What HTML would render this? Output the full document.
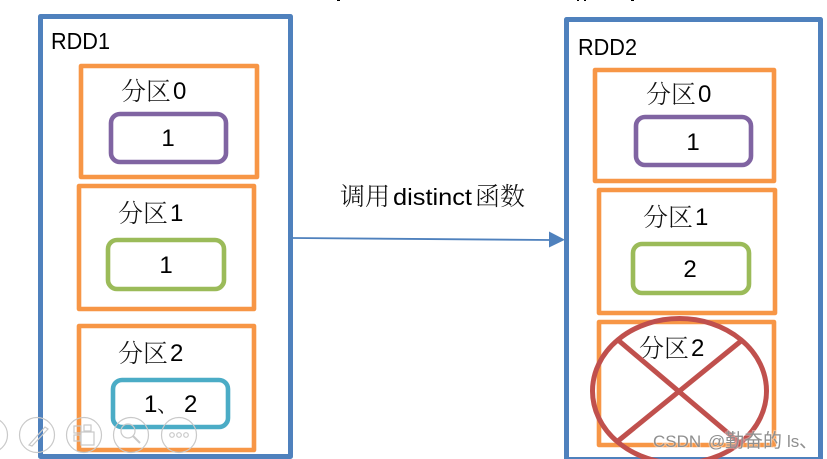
<!DOCTYPE html>
<html><head><meta charset="utf-8">
<style>
html,body{margin:0;padding:0;background:#fff;width:827px;height:459px;overflow:hidden}
svg{display:block}
text{font-family:"Liberation Sans","Noto Sans CJK SC",sans-serif;fill:#000}
.c{font-family:"Noto Serif CJK SC","Noto Sans CJK SC",serif;font-size:25px;font-weight:300;fill:#111}
.l{font-size:23px}
.v{font-size:24px}
.w{fill:#8f8f8f;font-size:17px}
.wj{fill:#8f8f8f;font-size:19px}
.h{fill:#fff;stroke:#fff;stroke-width:2;opacity:.6}
</style></head><body>
<svg width="827" height="459" viewBox="0 0 827 459" xmlns="http://www.w3.org/2000/svg">
<rect width="827" height="459" fill="#fff"/>
<g fill="#000"><rect x="337" y="0" width="3" height="1"/><rect x="577" y="0" width="2" height="1"/><rect x="584" y="0" width="2" height="1"/><rect x="631" y="0" width="3" height="1"/></g>
<g fill="none" stroke-linejoin="round">
<rect x="40.5" y="16.5" width="250" height="440" stroke="#4f81bd" stroke-width="5"/>
<rect x="566.5" y="19.5" width="254" height="440" stroke="#4f81bd" stroke-width="5"/>
<g stroke="#f79646" stroke-width="4.6">
<rect x="81" y="66" width="176" height="111"/>
<rect x="79" y="186" width="175" height="123"/>
<rect x="79" y="326" width="175" height="124"/>
<rect x="595" y="70" width="179" height="111"/>
<rect x="599" y="190" width="176" height="123"/>
<rect x="599" y="322" width="175" height="123"/>
</g>
<g stroke-width="4.6">
<rect x="111" y="114" width="115" height="48" rx="9" stroke="#8064a2"/>
<rect x="108" y="240" width="116" height="49" rx="9" stroke="#9bbb59"/>
<rect x="113" y="380" width="115" height="47" rx="9" stroke="#4bacc6"/>
<rect x="636" y="117" width="115" height="48" rx="9" stroke="#8064a2"/>
<rect x="633" y="244" width="116" height="49" rx="9" stroke="#9bbb59"/>
</g>
</g>
<line x1="293" y1="238" x2="551" y2="240" stroke="#4f81bd" stroke-width="1.8"/>
<polygon points="549,231.500 565,239.700 549,247.500" fill="#4f81bd"/>
<text class="l" x="51" y="49" textLength="59" lengthAdjust="spacingAndGlyphs">RDD1</text>
<text class="l" x="578" y="55" textLength="59" lengthAdjust="spacingAndGlyphs">RDD2</text>
<text class="c" x="121" y="100">分区</text><text class="v" x="173" y="99">0</text>
<text class="c" x="118" y="222">分区</text><text class="v" x="170" y="221">1</text>
<text class="c" x="118" y="362">分区</text><text class="v" x="170" y="361">2</text>
<text class="c" x="646" y="103">分区</text><text class="v" x="698" y="102">0</text>
<text class="c" x="643" y="226">分区</text><text class="v" x="695" y="225">1</text>
<text class="c" x="639" y="357">分区</text><text class="v" x="691" y="356">2</text>
<text class="v" x="168" y="146" text-anchor="middle">1</text>
<text class="v" x="166" y="273" text-anchor="middle">1</text>
<text class="v" x="144" y="412">1</text><text class="c" x="157" y="412" style="font-size:21px">、</text><text class="v" x="184" y="412">2</text>
<text class="v" x="693" y="150" text-anchor="middle">1</text>
<text class="v" x="690" y="277" text-anchor="middle">2</text>
<text class="c" x="340" y="205">调用</text>
<text x="393" y="205" font-size="23" textLength="79" lengthAdjust="spacingAndGlyphs">distinct</text>
<text class="c" x="475" y="205">函数</text>
<g fill="none" stroke="#c0504d" stroke-width="5">
<ellipse cx="679.500" cy="391" rx="87" ry="72.500"/>
<line x1="618" y1="340" x2="741" y2="444"/>
<line x1="741" y1="341" x2="618" y2="441"/>
</g>
<g fill="none" stroke="#c9c9c9" stroke-width="1.200">
<circle cx="-10" cy="435" r="17.500"/>
<circle cx="37" cy="435" r="17.500"/>
<circle cx="84" cy="435" r="17.500"/>
<circle cx="131" cy="435" r="17.500"/>
<circle cx="179" cy="435" r="17.500"/>
<path d="M29 445 L45 427 L48 429 L32 446 Z"/>
<rect x="74" y="426" width="7" height="7"/><rect x="74" y="435" width="6" height="6"/><rect x="84" y="425" width="7" height="6"/><rect x="81" y="432" width="13" height="13"/>
<circle cx="128" cy="431" r="7"/><line x1="133" y1="436" x2="140" y2="443" stroke-width="2"/>
<circle cx="172" cy="435" r="2.300"/><circle cx="179" cy="435" r="2.300"/><circle cx="186" cy="435" r="2.300"/>
</g>
<g class="h" font-size="17"><text class="h" x="653" y="447">CSDN</text><text class="h" x="708" y="447">@</text><text class="h" x="725" y="447" style="font-size:19px">勤奋的</text><text class="h" x="787" y="447">ls</text><text class="h" x="799" y="447" style="font-size:19px">、</text></g>
<text class="w" x="653" y="447">CSDN</text><text class="w" x="708" y="447">@</text><text class="wj" x="725" y="447">勤奋的</text><text class="w" x="787" y="447">ls</text><text class="wj" x="799" y="447">、</text>
</svg>
</body></html>
